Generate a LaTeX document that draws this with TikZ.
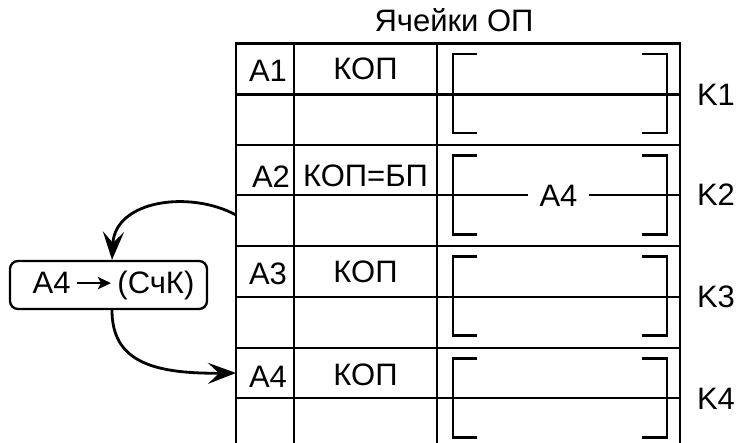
\documentclass[tikz,border=0pt]{standalone}
\usepackage{fontspec}
\setmainfont{Liberation Sans}
\usetikzlibrary{arrows.meta}
\tikzset{
  frame/.style={line width=2.3pt, line cap=rect},
  brk/.style={line width=2.3pt},
  lbl/.style={font=\fontsize{31}{37}\selectfont, inner sep=0pt, anchor=base},
  conn/.style={line width=2.8pt, -{Stealth[length=28pt,width=21pt,inset=11pt]}},
  pbox/.style={draw, line width=2.3pt, rounded corners=8pt, minimum width=197pt,
    minimum height=48pt, inner sep=0pt, font=\fontsize{31}{37}\selectfont}
}
\begin{document}
\begin{tikzpicture}[x=1pt,y=-1pt]
\useasboundingbox (0,0) rectangle (738,443);
% table frame
\draw[frame] (236,443) -- (236,43.5) -- (680,43.5) -- (680,443);
\draw[frame] (294,43.5) -- (294,443);
\draw[frame] (437,43.5) -- (437,443);
\foreach \yy in {94.5,145,195,246,297,348,398} {
  \draw[frame] (236,\yy) -- (680,\yy);
}
% brackets
\foreach \t in {43.5,145,246,348} {
  \draw[brk] (477,{\t+10.5}) -- (453,{\t+10.5}) -- (453,{\t+89.5}) -- (477,{\t+89.5});
  \draw[brk] (642,{\t+10.5}) -- (667,{\t+10.5}) -- (667,{\t+89.5}) -- (642,{\t+89.5});
}
% title
\node[lbl] (title) at (454,32) {Ячейки ОП};
% cell labels
\node[lbl] (a1) at (268,82) {A1};
\node[lbl] (k1op) at (365.5,80) {КОП};
\node[lbl] (a2) at (271,188) {A2};
\node[lbl] (k2op) at (365.5,187) {КОП=БП};
\node[lbl] (a3) at (268,285) {A3};
\node[lbl] (k3op) at (365.5,283) {КОП};
\node[lbl] (a4) at (268,387) {A4};
\node[lbl] (k4op) at (365.5,385) {КОП};
\node[lbl, fill=white, inner xsep=12pt] (a4k) at (558.5,207) {A4};
% row labels
\node[lbl] (K1) at (716,106) {K1};
\node[lbl] (K2) at (716,206) {K2};
\node[lbl] (K3) at (716,308) {K3};
\node[lbl] (K4) at (716,409) {K4};
% program counter box
\node[pbox] (box) at (108.5,285) {\hspace*{10pt}A4\,\tikz[baseline=-0.32em]\draw[line width=2.6pt,-{Stealth[length=13pt,width=12pt,inset=3pt]}] (0pt,0pt) -- (34pt,0pt);\,(СчК)};
% connectors
\coordinate (c2) at (236,215);
\coordinate (c4) at (236,373);
\draw[conn] (c2) .. controls (190,190) and (115,200) .. ([xshift=3.5pt]box.north);
\draw[conn] ([xshift=3.5pt]box.south) .. controls (112,360) and (150,374) .. (c4);
\end{tikzpicture}
\end{document}
